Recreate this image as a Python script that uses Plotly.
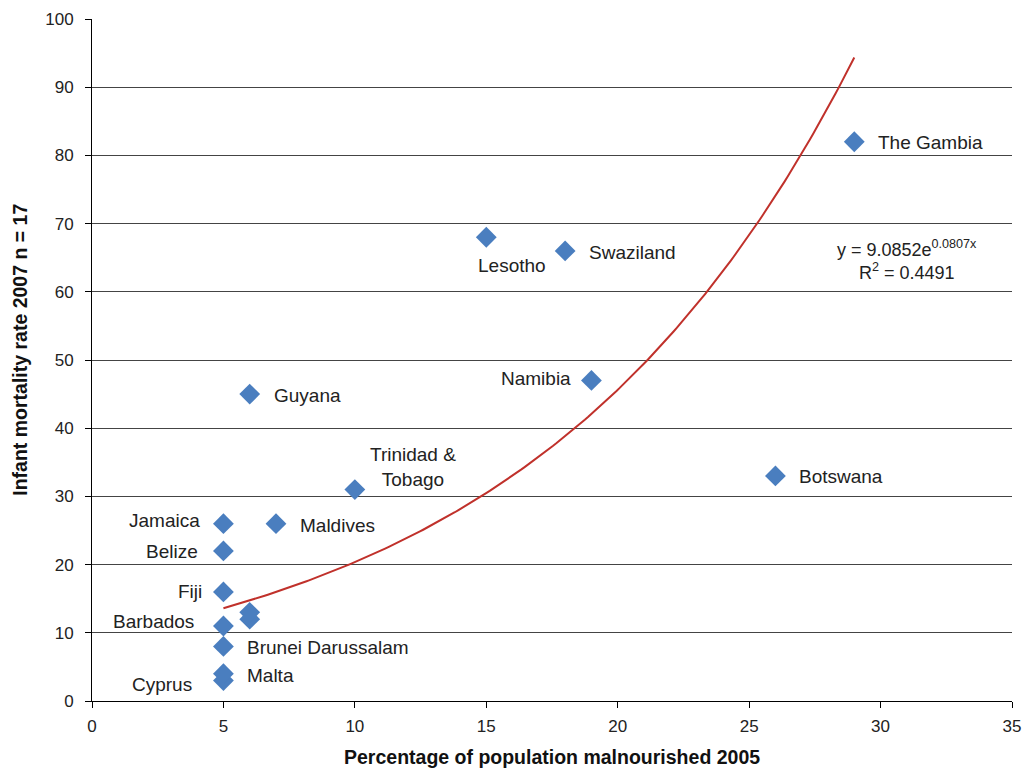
import numpy as np
import plotly.graph_objects as go

# Country data: % malnourished 2005 vs infant mortality rate 2007
countries = ["Cyprus", "Malta", "Brunei Darussalam", "Barbados", "Fiji", "Belize",
             "Jamaica", "", "", "Maldives", "Guyana", "Trinidad &<br>Tobago",
             "Lesotho", "Swaziland", "Namibia", "Botswana", "The Gambia"]
malnourished = [5, 5, 5, 5, 5, 5, 5, 6, 6, 7, 6, 10, 15, 18, 19, 26, 29]
infant_mortality = [3, 4, 8, 11, 16, 22, 26, 12, 13, 26, 45, 31, 68, 66, 47, 33, 82]

# Exponential trendline coefficients
trend_a = 9.0852
trend_b = 0.0807
trend_r2 = 0.4491

# Label placement per country: (xanchor, xshift, yshift)
label_style = {
    "Cyprus": ("right", -29, -4),
    "Malta": ("left", 22, -2),
    "Brunei Darussalam": ("left", 22, -1),
    "Barbados": ("right", -27, 4),
    "Fiji": ("right", -19, 0),
    "Belize": ("right", -23, -1),
    "Jamaica": ("right", -21, 3),
    "Maldives": ("left", 22, -2),
    "Guyana": ("left", 22, -1),
    "Trinidad &<br>Tobago": ("center", 58, 23),
    "Lesotho": ("center", 26, -28),
    "Swaziland": ("left", 22, -2),
    "Namibia": ("right", -18, 2),
    "Botswana": ("left", 22, -1),
    "The Gambia": ("left", 22, -1),
}

FONT = "Liberation Sans, Arial, sans-serif"

fig = go.Figure()

tx = np.linspace(min(malnourished), max(malnourished), 200)
fig.add_trace(go.Scatter(
    x=tx, y=trend_a * np.exp(trend_b * tx), mode="lines",
    line=dict(color="#C0312B", width=2), hoverinfo="skip", showlegend=False))

fig.add_trace(go.Scatter(
    x=malnourished, y=infant_mortality, mode="markers",
    marker=dict(symbol="diamond", size=16, color="#4A7EBF",
                line=dict(width=0)),
    text=countries, showlegend=False))

font_lbl = dict(family=FONT, size=19, color="#222222")
for name, xv, yv in zip(countries, malnourished, infant_mortality):
    if not name:
        continue
    anchor, xs, ys = label_style[name]
    fig.add_annotation(x=xv, y=yv, text=name, showarrow=False,
                       xanchor=anchor, yanchor="middle", xshift=xs, yshift=ys,
                       font=font_lbl, align="center")

# Trendline equation
fig.add_annotation(
    x=31.0, y=64.7, xref="x", yref="y", showarrow=False, align="center",
    text=f"y = {trend_a}e<sup>{trend_b}x</sup><br>R<sup>2</sup> = {trend_r2}",
    font=dict(family=FONT, size=18, color="#222222"),
    xanchor="center", yanchor="middle")

# Axis titles
title_font = dict(family=FONT, size=19.5, color="#111111")
fig.add_annotation(
    x=0.5, y=0, xref="paper", yref="paper", yshift=-56, showarrow=False,
    text="<b>Percentage of population malnourished 2005</b>",
    font=title_font, xanchor="center", yanchor="middle")
fig.add_annotation(
    x=0, y=0.515, xref="paper", yref="paper", xshift=-72, showarrow=False,
    text="<b>Infant mortality rate 2007 n = 17</b>", textangle=-90,
    font=title_font, xanchor="center", yanchor="middle")

axis_font = dict(family=FONT, size=17, color="#222222")

fig.update_xaxes(
    range=[0, 35], dtick=5, tick0=0, showgrid=False, zeroline=False,
    showline=True, linecolor="#000000", linewidth=1, automargin=False,
    ticks="outside", ticklen=6, tickcolor="#000000", tickfont=axis_font,
    ticklabelstandoff=4)
fig.update_yaxes(
    range=[0, 100], dtick=10, tick0=0, showgrid=True, gridcolor="#444444",
    gridwidth=1, zeroline=False, showline=True, linecolor="#000000", linewidth=1,
    automargin=False, ticks="outside", ticklen=6, tickcolor="#000000",
    tickfont=axis_font, ticklabelstandoff=8)

fig.update_layout(
    width=1026, height=768,
    margin=dict(l=92, r=14, t=19, b=67),
    paper_bgcolor="#FFFFFF", plot_bgcolor="#FFFFFF",
)

fig.write_html("out.html")
